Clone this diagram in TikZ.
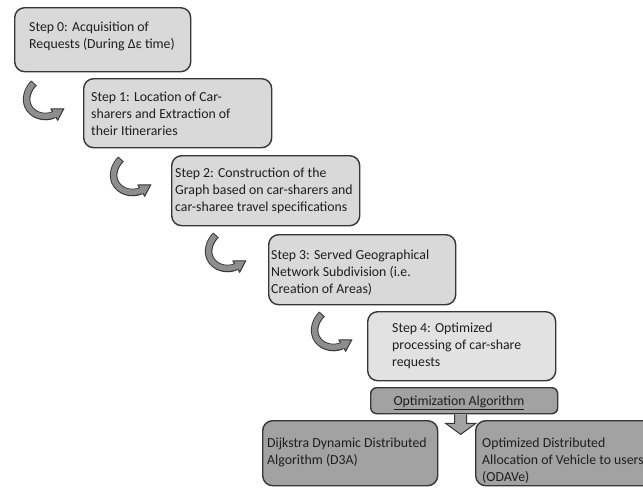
\documentclass[tikz,border=0pt]{standalone}
\usepackage{fontspec}
\setmainfont{Carlito}
\usetikzlibrary{calc}

\definecolor{edge}{HTML}{363636}
\definecolor{stepfill}{HTML}{D9D9D9}
\definecolor{lastfill}{HTML}{E2E2E2}
\definecolor{algfill}{HTML}{A2A2A2}
\definecolor{arrowfill}{HTML}{8E8E8E}
\definecolor{ink}{HTML}{1E1E1E}

% fixed first-line height so text tops line up predictably
\newcommand{\tstrut}{\rule{0pt}{11pt}}

% centre line of the curved block arrow
\newcommand{\curlypath}{(11,2) .. controls (4,9) and (2,18) .. (5,25)
  .. controls (9,34) and (21,38.3) .. (31.3,33.6)}

% curved block arrow leading into the next step box
\newcommand{\curlyarrow}[1]{%
  \begin{scope}[shift={#1}]
    \draw[line width=7.5pt, edge] \curlypath;
    \draw[line width=1pt, edge, fill=arrowfill, line join=miter]
         (27.9,28.0) -- (40.7,27.9) -- (34.7,39.2) -- cycle;
    \draw[line width=5.5pt, arrowfill, shorten <=1pt, shorten >=-1.5pt] \curlypath;
  \end{scope}}

\begin{document}
\begin{tikzpicture}[x=1pt, y=-1pt,
  stepbox/.style={draw=edge, line width=1.4pt, rounded corners=10pt,
    fill=stepfill, anchor=north west, inner sep=0pt},
  algbox/.style={stepbox, fill=algfill},
  steptext/.style={anchor=north west, inner sep=0pt, align=left, text=ink,
    font=\fontsize{13.8}{16.8}\selectfont},
]
\useasboundingbox (0,0) rectangle (643,488);
\clip (0,0) rectangle (643,488);
\fill[white] (0,0) rectangle (643,488);

% step boxes
\node[stepbox, minimum width=176pt, minimum height=64pt] (s0) at (14,7) {};
\node[stepbox, minimum width=188pt, minimum height=69pt] (s1) at (83,78) {};
\node[stepbox, minimum width=188pt, minimum height=70pt] (s2) at (171,155) {};
\node[stepbox, minimum width=187pt, minimum height=70pt] (s3) at (268,234) {};
\node[stepbox, fill=lastfill, minimum width=188pt, minimum height=69pt] (s4) at (367,311) {};

% step texts
\node[steptext] (t0) at ($(s0.north west)+(15,13.5)$)
  {\tstrut Step 0: Acquisition of\\Requests (During Δε time)};
\node[steptext] (t1) at ($(s1.north west)+(8,12.5)$)
  {\tstrut Step 1: Location of Car-\\sharers and Extraction of\\their Itineraries};
\node[steptext] (t2) at ($(s2.north west)+(4,11.5)$)
  {\tstrut Step 2: Construction of the\\Graph based on car-sharers and\\car-sharee travel specifications};
\node[steptext] (t3) at ($(s3.north west)+(3,14.5)$)
  {\tstrut Step 3: Served Geographical\\Network Subdivision (i.e.\\Creation of Areas)};
\node[steptext] (t4) at ($(s4.north west)+(25,10.5)$)
  {\tstrut Step 4: Optimized\\processing of car-share\\requests};

% curved arrows between the steps
\curlyarrow{($(s1.north west)+(-60,3)$)}
\curlyarrow{($(s2.north west)+(-61,2)$)}
\curlyarrow{($(s3.north west)+(-63,-1)$)}
\curlyarrow{($(s4.north west)+(-56,1)$)}

% optimization algorithm bar
\node[algbox, rounded corners=6pt, minimum width=187pt, minimum height=26pt] (opt) at (370,387) {};
\node[steptext, anchor=base] (topt) at (459,405) {\underline{Optimization Algorithm}};

% block arrow down to the two algorithms
\draw[line width=1pt, edge, fill=algfill, line join=miter]
  ($(opt.south)+(-9.5,0)$) -- ++(0,9) -- ++(-9,0) -- ($(opt.south)+(-3.5,20)$)
  -- ($(opt.south)+(11.5,9)$) -- ++(-9,0) -- ($(opt.south)+(2.5,0)$);

% algorithm boxes
\node[algbox, minimum width=175pt, minimum height=65pt] (d3a) at (262,420) {};
\node[algbox, minimum width=200pt, minimum height=65pt] (odave) at (475,420) {};
\node[steptext] (td3a) at ($(d3a.north west)+(5,16.5)$)
  {\tstrut Dijkstra Dynamic Distributed\\Algorithm (D3A)};
\node[steptext] (todave) at ($(odave.north west)+(7,16.5)$)
  {\tstrut Optimized Distributed\\Allocation of Vehicle to users\\(ODAVe)};
\end{tikzpicture}
\end{document}
